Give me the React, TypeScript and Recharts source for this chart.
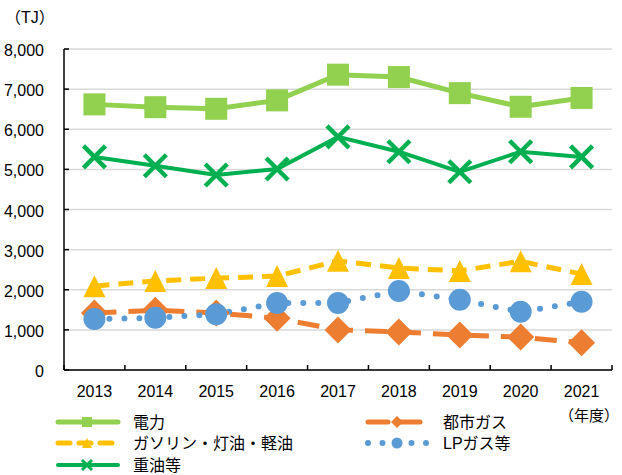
import React from 'react';
import { LineChart, Line, XAxis, YAxis, CartesianGrid } from 'recharts';

const years = ['2013', '2014', '2015', '2016', '2017', '2018', '2019', '2020', '2021'];
const denryoku = [6620, 6550, 6510, 6720, 7360, 7300, 6900, 6560, 6780];
const toshiGas = [1420, 1490, 1420, 1290, 1000, 950, 870, 820, 680];
const gasoline = [2090, 2220, 2290, 2340, 2720, 2540, 2470, 2710, 2390];
const lpGas = [1270, 1300, 1390, 1670, 1670, 1970, 1750, 1450, 1700];
const juyu = [5310, 5090, 4860, 5010, 5810, 5440, 4940, 5440, 5310];
const yTicks = [0, 1000, 2000, 3000, 4000, 5000, 6000, 7000, 8000];

const C_DEN = '#92D050';
const C_TOSHI = '#ED7D31';
const C_GAS = '#FFC000';
const C_LP = '#5B9BD5';
const C_JUYU = '#00B050';

const data = years.map((y, i) => ({
  i,
  year: y,
  denryoku: denryoku[i],
  toshiGas: toshiGas[i],
  gasoline: gasoline[i],
  lpGas: lpGas[i],
  juyu: juyu[i],
}));

const xTicks: number[] = [];
for (let k = -0.5; k <= 8.5; k += 0.5) xTicks.push(k);

const FONT = '"Liberation Sans", Arial, "Noto Sans CJK JP", sans-serif';

const Square = (s: number, color: string) => (p: any) => (
  <rect key={p.index} x={p.cx - s / 2} y={p.cy - s / 2} width={s} height={s} fill={color} />
);
const Diamond = (s: number, color: string) => (p: any) => (
  <polygon
    key={p.index}
    points={`${p.cx},${p.cy - s / 2} ${p.cx + s / 2},${p.cy} ${p.cx},${p.cy + s / 2} ${p.cx - s / 2},${p.cy}`}
    fill={color}
  />
);
const Triangle = (s: number, color: string) => (p: any) => (
  <polygon
    key={p.index}
    points={`${p.cx},${p.cy - s / 2} ${p.cx + s / 2},${p.cy + s / 2} ${p.cx - s / 2},${p.cy + s / 2}`}
    fill={color}
  />
);
const Circle = (r: number, color: string) => (p: any) => (
  <circle key={p.index} cx={p.cx} cy={p.cy} r={r} fill={color} />
);
const Cross = (s: number, w: number, color: string) => (p: any) => (
  <g key={p.index}>
    <line x1={p.cx - s / 2} y1={p.cy - s / 2} x2={p.cx + s / 2} y2={p.cy + s / 2} stroke={color} strokeWidth={w} />
    <line x1={p.cx - s / 2} y1={p.cy + s / 2} x2={p.cx + s / 2} y2={p.cy - s / 2} stroke={color} strokeWidth={w} />
  </g>
);

const YTick = (p: any) => (
  <g>
    <line x1={p.x} y1={p.y} x2={p.x + 5} y2={p.y} stroke="#000" strokeWidth={1.5} />
    <text x={p.x - 20} y={p.y + 7} textAnchor="end" fontSize={16} fontFamily={FONT} fill="#000">
      {Number(p.payload.value).toLocaleString('en-US')}
    </text>
  </g>
);

const XTick = (p: any) => {
  const v = p.payload.value;
  if (Math.abs(v - Math.round(v)) > 0.01) {
    return <line x1={p.x} y1={p.y} x2={p.x} y2={p.y - 5} stroke="#000" strokeWidth={1.5} />;
  }
  return (
    <text x={p.x} y={p.y + 27} textAnchor="middle" fontSize={16} fontFamily={FONT} fill="#000">
      {years[Math.round(v)]}
    </text>
  );
};

const legendItems = [
  { label: '電力', color: C_DEN, x: 56, y: 422, type: 'solid', w: 5, marker: 'square' },
  { label: 'ガソリン・灯油・軽油', color: C_GAS, x: 56, y: 443, type: 'dash', w: 5, marker: 'triangle' },
  { label: '重油等', color: C_JUYU, x: 56, y: 465, type: 'solid', w: 4, marker: 'cross' },
  { label: '都市ガス', color: C_TOSHI, x: 366, y: 422, type: 'longdash', w: 5, marker: 'diamond' },
  { label: 'LPガス等', color: C_LP, x: 366, y: 443, type: 'dot', w: 6, marker: 'circle' },
];

const LegendSvg = () => (
  <svg width={622} height={475} style={{ position: 'absolute', left: 0, top: 0, pointerEvents: 'none' }}>
    <text x={5} y={23} fontSize={16} fontFamily={FONT} fill="#000">（TJ）</text>
    <text x={559} y={421} fontSize={15} fontFamily={FONT} fill="#000">（年度）</text>
    {legendItems.map((it) => {
      const len = 62;
      const cx = it.x + len / 2;
      const cy = it.y;
      let dash: string | undefined;
      const cap: 'butt' | 'round' = 'round';
      if (it.type === 'dash') dash = '12 9';
      if (it.type === 'longdash') dash = '20 12';
      if (it.type === 'dot') { dash = '0 14.5'; }
      const m = it.marker;
      return (
        <g key={it.label}>
          <line x1={it.x + 2} y1={cy} x2={it.x + len} y2={cy} stroke={it.color} strokeWidth={it.w} strokeDasharray={dash} strokeLinecap={cap} />
          {m === 'square' && <rect x={cx - 5} y={cy - 5} width={10} height={10} fill={it.color} />}
          {m === 'triangle' && <polygon points={`${cx},${cy - 5} ${cx + 5},${cy + 5} ${cx - 5},${cy + 5}`} fill={it.color} />}
          {m === 'diamond' && <polygon points={`${cx},${cy - 6} ${cx + 6},${cy} ${cx},${cy + 6} ${cx - 6},${cy}`} fill={it.color} />}
          {m === 'circle' && <circle cx={cx} cy={cy} r={5.5} fill={it.color} />}
          {m === 'cross' && (
            <g>
              <line x1={cx - 5} y1={cy - 5} x2={cx + 5} y2={cy + 5} stroke={it.color} strokeWidth={3} />
              <line x1={cx - 5} y1={cy + 5} x2={cx + 5} y2={cy - 5} stroke={it.color} strokeWidth={3} />
            </g>
          )}
          <text x={it.x + len + 15} y={cy + 6} fontSize={16} fontFamily={FONT} fill="#000">{it.label}</text>
        </g>
      );
    })}
  </svg>
);

export default function App() {
  return (
    <div style={{ position: 'absolute', left: 0, top: 0, width: 622, height: 475, background: '#fff' }}>
      <LineChart width={622} height={475} data={data} margin={{ top: 49, right: 10, bottom: 75, left: 8 }}>
        <CartesianGrid horizontal vertical={false} stroke="#d9d9d9" strokeWidth={1.5} />
        <XAxis
          type="number"
          dataKey="i"
          domain={[-0.5, 8.5]}
          ticks={xTicks}
          interval={0}
          tickLine={false}
          tickSize={0}
          tickMargin={0}
          height={30}
          axisLine={{ stroke: '#000', strokeWidth: 1.5 }}
          tick={XTick}
        />
        <YAxis
          domain={[0, 8000]}
          ticks={yTicks}
          interval={0}
          width={56}
          tickLine={false}
          tickSize={0}
          tickMargin={0}
          axisLine={{ stroke: '#000', strokeWidth: 1.5 }}
          tick={YTick}
        />
        <Line dataKey="denryoku" stroke={C_DEN} strokeWidth={5} dot={Square(22, C_DEN)} isAnimationActive={false} />
        <Line dataKey="toshiGas" stroke={C_TOSHI} strokeWidth={5} strokeDasharray="22 12" dot={Diamond(27, C_TOSHI)} isAnimationActive={false} />
        <Line dataKey="gasoline" stroke={C_GAS} strokeWidth={5} strokeDasharray="15 9" dot={Triangle(22, C_GAS)} isAnimationActive={false} />
        <Line dataKey="lpGas" stroke={C_LP} strokeWidth={6} strokeDasharray="0 15" strokeLinecap="round" dot={Circle(11, C_LP)} isAnimationActive={false} />
        <Line dataKey="juyu" stroke={C_JUYU} strokeWidth={4} dot={Cross(22, 4.5, C_JUYU)} isAnimationActive={false} />
      </LineChart>
      <LegendSvg />
    </div>
  );
}
